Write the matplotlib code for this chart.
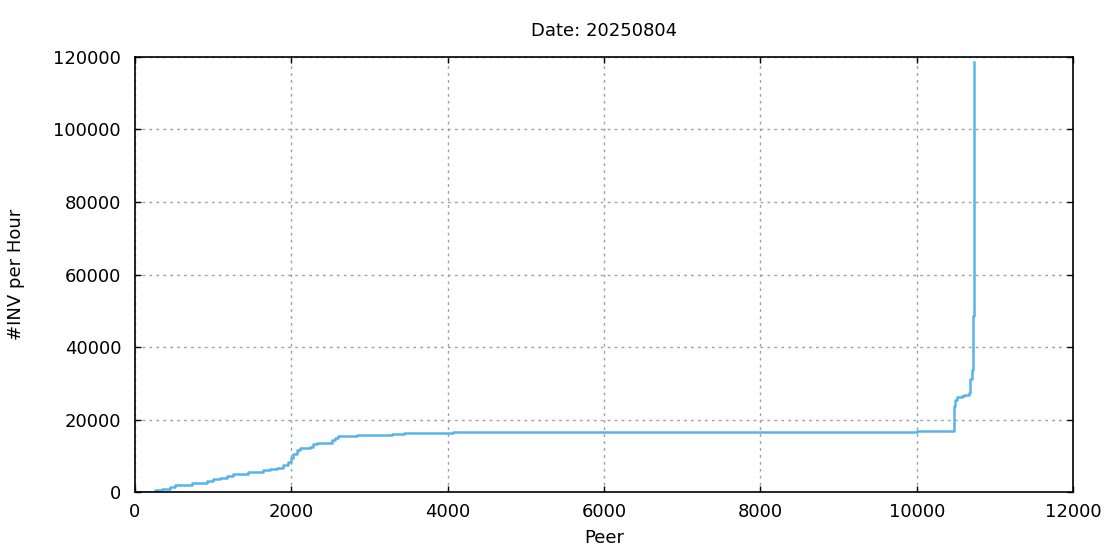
import numpy as np
import matplotlib.pyplot as plt

# step points (peer index, INV per hour)
peer = [0, 128, 192, 256, 341, 448, 512, 704, 725, 896, 917, 1002, 1087,
        1173, 1258, 1429, 1450, 1599, 1642, 1727, 1813, 1897, 1961, 1996,
        2025, 2068, 2111, 2239, 2273, 2324, 2495, 2516, 2559, 2601, 2836,
        3262, 3283, 3432, 3441, 4051, 4064, 5053, 6575, 10000, 10477,
        10490, 10520, 10575, 10609, 10673, 10682, 10703, 10712, 10720,
        10733]
inv = [0, 0, 100, 550, 920, 1380, 1930, 1930, 2570, 2570, 3130, 3500, 3950,
       4500, 5060, 5060, 5600, 5600, 6070, 6250, 6700, 7360, 8190, 9290,
       10480, 11590, 12050, 12320, 13150, 13610, 13610, 14250, 14990, 15360,
       15630, 15630, 15900, 15900, 16190, 16190, 16470, 16470, 16640, 16920,
       23720, 25380, 26120, 26480, 26760, 27220, 31080, 31820, 33660, 48550,
       118700]

title = "Date: 20250804"
xticks = [0, 2000, 4000, 6000, 8000, 10000, 12000]
yticks = [0, 20000, 40000, 60000, 80000, 100000, 120000]

fig = plt.figure(figsize=(11.1, 5.55), dpi=100)
ax = fig.add_axes([0.1216, 0.1135, 0.8451, 0.7838])

ax.plot(peer, inv, drawstyle='steps-post', color='#56b4e9', linewidth=1.8)

ax.set_xlim(0, 12000)
ax.set_ylim(0, 120000)
ax.set_xticks(xticks)
ax.set_yticks(yticks)
ax.tick_params(direction='in', length=4.5, width=1, top=True, right=True,
               labelsize=13)
ax.tick_params(axis='x', pad=8)
ax.tick_params(axis='y', pad=10)
ax.grid(True, linestyle=(0, (2, 3)), color='#a0a0a0', linewidth=1)
for s in ax.spines.values():
    s.set_linewidth(1.2)

ax.set_title(title, fontsize=13, pad=15)
ax.set_xlabel("Peer", fontsize=13, labelpad=6)
ax.set_ylabel("#INV per Hour", fontsize=13, labelpad=20)

fig.savefig("out.png", dpi=100)
